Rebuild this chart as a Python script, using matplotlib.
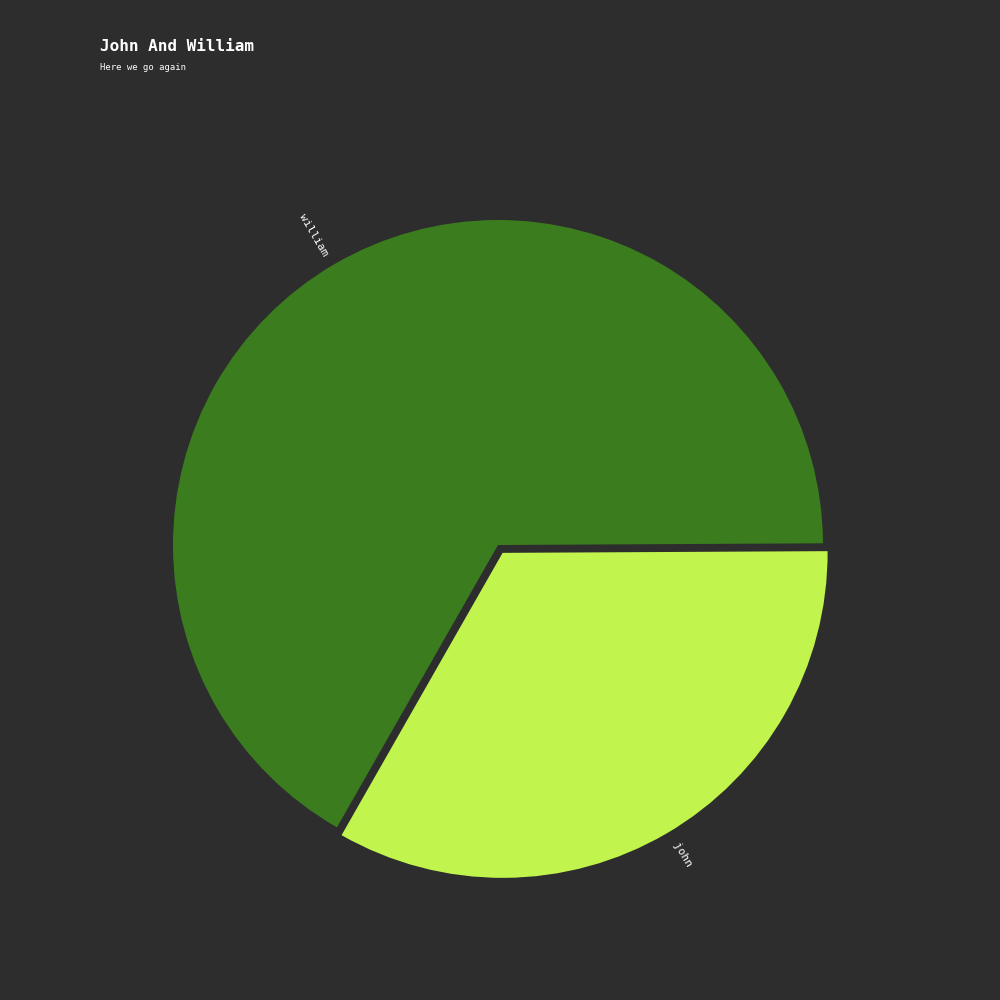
import matplotlib
matplotlib.use("Agg")
import matplotlib.pyplot as plt

labels = ["john", "william"]
values = [1, 2]
colors = ["#c1f54d", "#3b7d1e"]
explode = [0.028, 0]

bg = "#2d2d2d"
fig = plt.figure(figsize=(10, 10), dpi=100, facecolor=bg)
ax = fig.add_axes([0, 0, 1, 1])
ax.set_facecolor(bg)
ax.axis("off")

wedges, texts = ax.pie(values, labels=labels, colors=colors, explode=explode,
                       startangle=0.3, counterclock=False, radius=1,
                       labeldistance=1.025, rotatelabels=True,
                       wedgeprops=dict(linewidth=0),
                       textprops=dict(color="white", fontsize=8, family="DejaVu Sans Mono"))
R = 325.0
ax.set_xlim(-498 / R, 502 / R)
ax.set_ylim(-455 / R, 545 / R)

fig.text(0.1, 0.949, "John And William", color="white", fontsize=11.5,
         family="DejaVu Sans Mono", weight="bold", ha="left", va="baseline")
fig.text(0.1, 0.930, "Here we go again", color="white", fontsize=6.4,
         family="DejaVu Sans Mono", ha="left", va="baseline")

fig.savefig("out.png", dpi=100, facecolor=bg)
